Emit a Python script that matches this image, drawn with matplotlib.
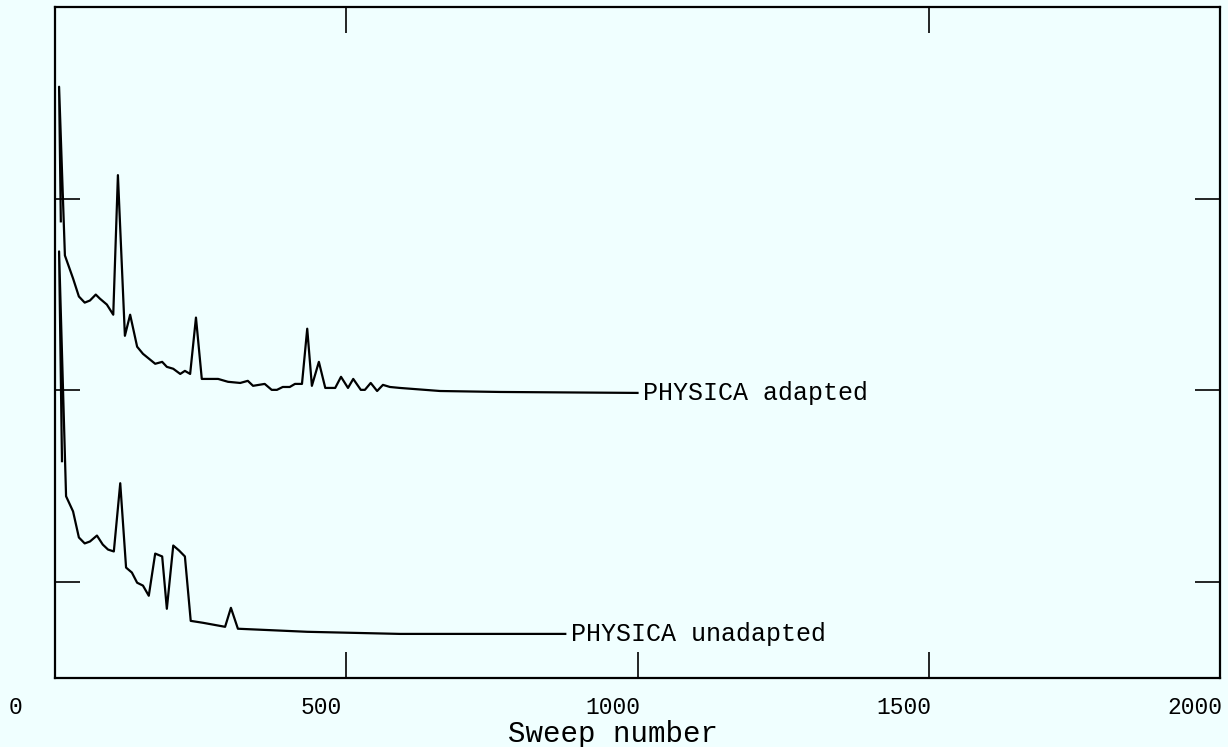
import matplotlib
matplotlib.use("Agg")
import matplotlib.pyplot as plt
import matplotlib.transforms as mtransforms

# ---- data ----
adapted_sweep = [10, 7, 17, 31, 41, 51, 60, 70, 77, 89, 100, 108, 120, 129, 141, 151,
                 172, 184, 192, 203, 215, 223, 232, 242, 252, 280, 297, 318, 331, 340,
                 360, 372, 381, 391, 403, 412, 424, 433, 441, 453, 464, 481, 491, 503,
                 512, 525, 532, 542, 553, 563, 575, 592, 661, 764, 1000]
adapted_value = [2.382, 3.084, 2.204, 2.084, 1.990, 1.958, 1.969, 2.000, 1.979, 1.948,
                 1.895, 2.623, 1.785, 1.895, 1.728, 1.691, 1.639, 1.649, 1.623, 1.613,
                 1.586, 1.602, 1.586, 1.880, 1.560, 1.560, 1.545, 1.539, 1.550, 1.524,
                 1.534, 1.503, 1.503, 1.518, 1.518, 1.534, 1.534, 1.822, 1.524, 1.649,
                 1.513, 1.513, 1.571, 1.513, 1.560, 1.503, 1.503, 1.539, 1.497, 1.529,
                 1.518, 1.513, 1.497, 1.492, 1.487]

unadapted_sweep = [12, 7, 19, 31, 41, 51, 60, 72, 82, 91, 101, 112, 122, 132, 141, 151,
                   161, 172, 184, 192, 203, 213, 223, 233, 254, 292, 302, 314, 433, 592, 876]
unadapted_value = [1.131, 2.225, 0.948, 0.869, 0.733, 0.702, 0.712, 0.743, 0.696, 0.670,
                   0.660, 1.016, 0.576, 0.550, 0.497, 0.482, 0.429, 0.649, 0.634, 0.361,
                   0.691, 0.665, 0.634, 0.298, 0.288, 0.267, 0.366, 0.257, 0.241, 0.230,
                   0.230]

series_labels = ["PHYSICA adapted", "PHYSICA unadapted"]
x_ticks = [0, 500, 1000, 1500, 2000]
x_ticklabels = ["0", "500", "1000", "1500", "2000"]
y_ticks = [0.5, 1.5, 2.5]
x_label = "Sweep number"

# ---- style ----
BG = "#F0FFFF"
FONT = ["Liberation Mono", "DejaVu Sans Mono"]
plt.rcParams["font.family"] = FONT

fig = plt.figure(figsize=(12.28, 7.47), dpi=100, facecolor=BG)
ax = fig.add_axes([55 / 1228, 1 - 678 / 747, 1165 / 1228, 671 / 747])
ax.set_facecolor(BG)

ax.plot(adapted_sweep, adapted_value, color="black", lw=1.6)
ax.plot(unadapted_sweep, unadapted_value, color="black", lw=1.6)

for xs, ys, lab in [(adapted_sweep, adapted_value, series_labels[0]),
                    (unadapted_sweep, unadapted_value, series_labels[1])]:
    ax.annotate(lab, xy=(xs[-1], ys[-1]), xytext=(4, 0), textcoords="offset points",
                ha="left", va="center", fontsize=18, color="black")

ax.set_xlim(0, 2000)
ax.set_ylim(0, 3.5)
ax.set_xticks(x_ticks)
ax.set_xticklabels(x_ticklabels)
ax.set_yticks(y_ticks)
ax.set_yticklabels([])

ax.tick_params(axis="x", which="both", direction="in", length=19, width=1.2,
               labelsize=16.5, pad=13, bottom=True, top=False)
ax.tick_params(axis="y", which="both", direction="in", length=18, width=1.2,
               left=True, right=True)

# top ticks (only at 500 and 1500)
sec = ax.secondary_xaxis("top")
sec.set_xticks([500, 1500])
sec.set_xticklabels([])
sec.tick_params(direction="in", length=19, width=1.2)
sec.spines["top"].set_visible(False)

for s in ax.spines.values():
    s.set_linewidth(1.6)
    s.set_color("black")

# shift tick labels like the reference
for lab, t in zip(ax.xaxis.get_majorticklabels(), x_ticks):
    dx = -39 / 100 if t == 0 else -25 / 100
    off = mtransforms.ScaledTranslation(dx, 0, fig.dpi_scale_trans)
    lab.set_transform(lab.get_transform() + off)

ax.set_xlabel(x_label, fontsize=21)
ax.xaxis.set_label_coords((613 - 55) / 1165, -0.062)

fig.savefig("out.png", dpi=100, facecolor=BG)
